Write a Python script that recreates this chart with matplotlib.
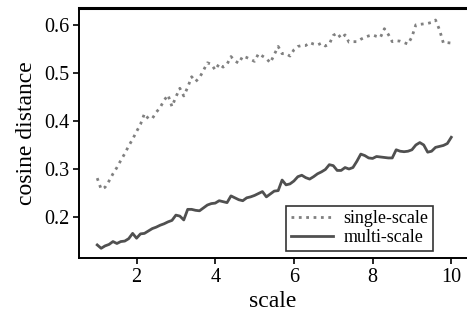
import numpy as np
import matplotlib
matplotlib.use("Agg")
import matplotlib.pyplot as plt

plt.rcParams['font.family'] = ['Liberation Serif', 'DejaVu Serif']

scale = np.round(np.arange(1.0, 10.01, 0.1), 1)

single_scale = [
    0.281, 0.258, 0.262, 0.275, 0.290, 0.303, 0.318, 0.332, 0.348, 0.362,
    0.378, 0.393, 0.415, 0.405, 0.405, 0.418, 0.428, 0.443, 0.454, 0.430,
    0.450, 0.468, 0.452, 0.470, 0.492, 0.482, 0.490, 0.505, 0.521, 0.518,
    0.506, 0.519, 0.512, 0.518, 0.534, 0.525, 0.520, 0.535, 0.532, 0.528,
    0.524, 0.540, 0.535, 0.530, 0.521, 0.538, 0.555, 0.540, 0.540, 0.535,
    0.548, 0.555, 0.557, 0.557, 0.563, 0.560, 0.558, 0.562, 0.556, 0.560,
    0.578, 0.583, 0.572, 0.579, 0.564, 0.565, 0.565, 0.570, 0.574, 0.577,
    0.579, 0.576, 0.574, 0.592, 0.580, 0.565, 0.567, 0.566, 0.563, 0.560,
    0.575, 0.600, 0.601, 0.602, 0.603, 0.605, 0.610, 0.590, 0.562, 0.563,
    0.562,
]

multi_scale = [
    0.142, 0.135, 0.140, 0.143, 0.149, 0.145, 0.149, 0.150, 0.155, 0.166,
    0.156, 0.165, 0.166, 0.171, 0.176, 0.179, 0.183, 0.186, 0.190, 0.193,
    0.204, 0.202, 0.194, 0.216, 0.216, 0.214, 0.213, 0.219, 0.225, 0.228,
    0.229, 0.234, 0.232, 0.230, 0.244, 0.240, 0.236, 0.234, 0.240, 0.242,
    0.245, 0.249, 0.253, 0.242, 0.248, 0.254, 0.255, 0.277, 0.267, 0.269,
    0.275, 0.284, 0.287, 0.282, 0.279, 0.284, 0.290, 0.294, 0.299, 0.309,
    0.307, 0.297, 0.297, 0.303, 0.300, 0.303, 0.316, 0.331, 0.328, 0.323,
    0.322, 0.326, 0.325, 0.324, 0.323, 0.323, 0.340, 0.337, 0.336, 0.337,
    0.340, 0.350, 0.355, 0.350, 0.335, 0.337, 0.345, 0.347, 0.349, 0.353,
    0.366,
]

x_ticks = [2, 4, 6, 8, 10]
y_ticks = [0.2, 0.3, 0.4, 0.5, 0.6]

fig = plt.figure(figsize=(4.67, 3.21), dpi=100)
ax = fig.add_axes([0.169, 0.196, 0.831, 0.779])

ax.plot(scale, single_scale, linestyle=':', color='#808080', linewidth=2.0,
        label='single-scale')
ax.plot(scale, multi_scale, linestyle='-', color='#505050', linewidth=2.0,
        label='multi-scale')

ax.set_xlim(0.535, 10.4)
ax.set_ylim(0.1146, 0.635)
ax.set_xticks(x_ticks)
ax.set_xticklabels([str(t) for t in x_ticks])
ax.set_yticks(y_ticks)
ax.set_yticklabels(['%.1f' % t for t in y_ticks])
ax.tick_params(labelsize=14.5, direction='out', length=4, width=1.2, pad=3,
               top=False, right=False)

ax.set_xlabel('scale', fontsize=17, labelpad=3)
ax.set_ylabel('cosine distance', fontsize=17, labelpad=5)

for side in ['left', 'bottom']:
    ax.spines[side].set_linewidth(1.4)
ax.spines['top'].set_linewidth(2.2)
ax.spines['right'].set_visible(False)

leg = ax.legend(loc='lower right', bbox_to_anchor=(0.912, 0.03), fontsize=13,
                frameon=True, fancybox=False, handlelength=2.3,
                handletextpad=0.6, borderpad=0.25, labelspacing=0.1,
                borderaxespad=0)
leg.get_frame().set_edgecolor('black')
leg.get_frame().set_linewidth(1.2)

fig.savefig('out.png', dpi=100)
